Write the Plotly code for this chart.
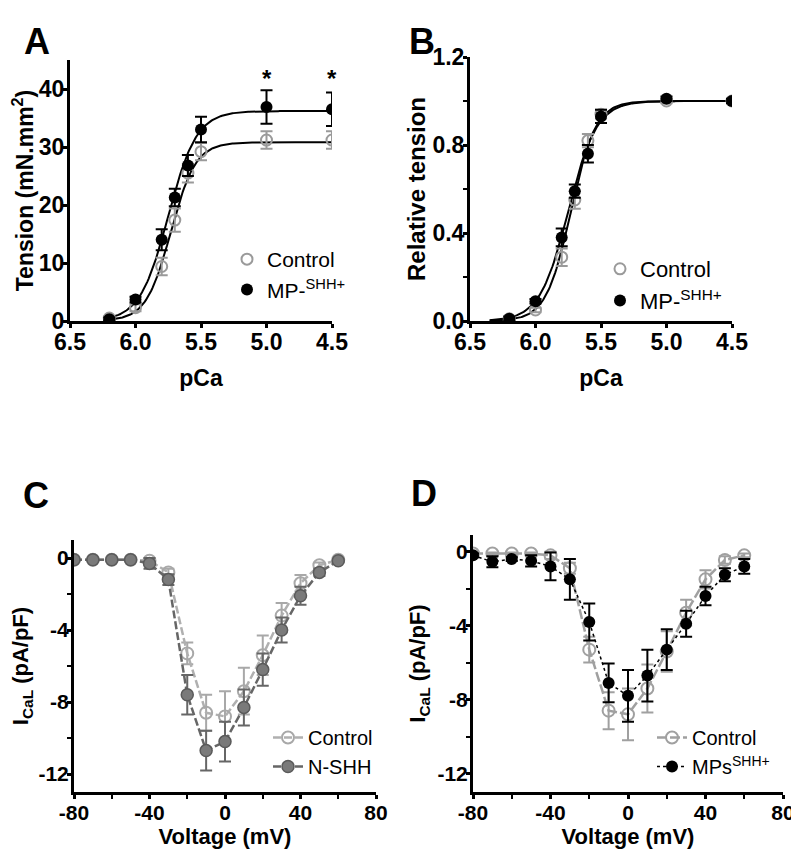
import plotly.graph_objects as go

# ---- panel A / B : tension vs pCa ----
pca = [6.2, 6.0, 5.8, 5.7, 5.6, 5.5, 5.0, 4.5]

tens_ctrl = [0.5, 2.3, 9.4, 17.4, 25.5, 29.2, 31.2, 31.2]
tens_ctrl_err = [0.3, 0.6, 1.5, 2.0, 1.6, 1.5, 1.5, 1.5]
tens_mp = [0.3, 3.7, 14.0, 21.3, 26.8, 33.0, 36.9, 36.5]
tens_mp_err = [0.3, 0.5, 1.8, 1.5, 1.8, 2.2, 2.9, 2.9]

rel_ctrl = [0.01, 0.05, 0.29, 0.55, 0.82, 0.94, 1.0, 1.0]
rel_ctrl_err = [0.01, 0.01, 0.04, 0.04, 0.03, 0.02, 0.01, 0.01]
rel_mp = [0.01, 0.09, 0.38, 0.59, 0.76, 0.93, 1.01, 1.0]
rel_mp_err = [0.01, 0.01, 0.04, 0.03, 0.04, 0.03, 0.01, 0.01]

# Hill fit parameters (top, pCa50, nH)
fit_tens_ctrl = (30.8, 5.73, 4.6)
fit_tens_mp = (36.2, 5.75, 4.0)
fit_rel_ctrl = (1.0, 5.73, 4.6)
fit_rel_mp = (1.0, 5.75, 4.0)

pca_ticks = [6.5, 6.0, 5.5, 5.0, 4.5]

# ---- panel C / D : I-V curves ----
volt = [-80, -70, -60, -50, -40, -30, -20, -10, 0, 10, 20, 30, 40, 50, 60]

ical_ctrl = [-0.1, -0.1, -0.1, -0.1, -0.15, -0.8, -5.3, -8.6, -8.8, -7.4, -5.4, -3.2, -1.4, -0.4, -0.1]
ical_ctrl_err = [0.05, 0.05, 0.05, 0.05, 0.1, 0.2, 0.6, 1.0, 1.4, 1.3, 1.1, 0.7, 0.45, 0.15, 0.05]
ical_nshh = [-0.1, -0.1, -0.1, -0.1, -0.3, -1.2, -7.6, -10.7, -10.2, -8.3, -6.2, -4.0, -2.1, -0.8, -0.15]
ical_nshh_err = [0.05, 0.05, 0.05, 0.05, 0.3, 0.3, 1.1, 1.1, 1.1, 1.0, 0.9, 0.7, 0.5, 0.2, 0.1]

ical_ctrl_d = [-0.1, -0.1, -0.1, -0.1, -0.2, -0.9, -5.3, -8.6, -8.8, -7.4, -5.4, -3.3, -1.5, -0.45, -0.2]
ical_ctrl_d_err = [0.05, 0.05, 0.05, 0.05, 0.2, 0.3, 0.7, 1.0, 1.4, 1.3, 1.1, 0.7, 0.5, 0.2, 0.1]
ical_mps = [-0.2, -0.55, -0.4, -0.5, -0.8, -1.5, -3.8, -7.1, -7.8, -6.7, -5.3, -3.9, -2.4, -1.25, -0.8]
ical_mps_err = [0.1, 0.3, 0.1, 0.3, 0.75, 1.1, 1.0, 1.05, 1.4, 1.4, 1.1, 0.7, 0.5, 0.35, 0.4]

volt_ticks = [-80, -40, 0, 40, 80]
ical_ticks = [0, -4, -8, -12]

GREY = '#9a9a9a'
FONT = 'Liberation Sans'

# the page body has an 8px margin, so the figure is drawn 8px in from the corner
OFF = 8
W, H = 799 - OFF, 857 - OFF


def px_x(a, b):
    return [(a - OFF) / W, (b - OFF) / W]


def px_y(top, bottom):
    return [1 - (bottom - OFF) / H, 1 - (top - OFF) / H]


def hill(xs, p):
    top, p50, n = p
    return [top / (1 + 10 ** (n * (x - p50))) for x in xs]


fit_x_a = [6.2 - i * 0.01 for i in range(171)]
fit_x_b = [6.35 - i * 0.01 for i in range(186)]

fig = go.Figure()

# A
fig.add_trace(go.Scatter(x=fit_x_a, y=hill(fit_x_a, fit_tens_ctrl), mode='lines',
                         line=dict(color='black', width=2), showlegend=False, xaxis='x', yaxis='y'))
fig.add_trace(go.Scatter(x=fit_x_a, y=hill(fit_x_a, fit_tens_mp), mode='lines',
                         line=dict(color='black', width=2), showlegend=False, xaxis='x', yaxis='y'))
fig.add_trace(go.Scatter(x=pca, y=tens_ctrl, mode='markers', name='Control', legend='legend',
                         marker=dict(symbol='circle-open', size=11, color=GREY, line=dict(width=2)),
                         error_y=dict(type='data', array=tens_ctrl_err, color=GREY, thickness=2, width=6),
                         xaxis='x', yaxis='y'))
fig.add_trace(go.Scatter(x=pca, y=tens_mp, mode='markers', name='MP-<sup>SHH+</sup>', legend='legend',
                         marker=dict(symbol='circle', size=12, color='black'),
                         error_y=dict(type='data', array=tens_mp_err, color='black', thickness=2, width=6),
                         xaxis='x', yaxis='y'))

# B
fig.add_trace(go.Scatter(x=fit_x_b, y=hill(fit_x_b, fit_rel_ctrl), mode='lines',
                         line=dict(color='black', width=2), showlegend=False, xaxis='x2', yaxis='y2'))
fig.add_trace(go.Scatter(x=fit_x_b, y=hill(fit_x_b, fit_rel_mp), mode='lines',
                         line=dict(color='black', width=2), showlegend=False, xaxis='x2', yaxis='y2'))
fig.add_trace(go.Scatter(x=pca, y=rel_ctrl, mode='markers', name='Control', legend='legend2',
                         marker=dict(symbol='circle-open', size=11, color=GREY, line=dict(width=2)),
                         error_y=dict(type='data', array=rel_ctrl_err, color=GREY, thickness=2, width=6),
                         xaxis='x2', yaxis='y2'))
fig.add_trace(go.Scatter(x=pca, y=rel_mp, mode='markers', name='MP-<sup>SHH+</sup>', legend='legend2',
                         marker=dict(symbol='circle', size=12, color='black'),
                         error_y=dict(type='data', array=rel_mp_err, color='black', thickness=2, width=6),
                         xaxis='x2', yaxis='y2'))

# C
fig.add_trace(go.Scatter(x=volt, y=ical_ctrl, mode='lines+markers', name='Control', legend='legend3',
                         line=dict(color='#b0b0b0', width=2.5, dash='8px,3px'),
                         marker=dict(symbol='circle-open', size=12, color='#a8a8a8', line=dict(width=2)),
                         error_y=dict(type='data', array=ical_ctrl_err, color='#a8a8a8', thickness=2, width=6),
                         xaxis='x3', yaxis='y3'))
fig.add_trace(go.Scatter(x=volt, y=ical_nshh, mode='lines+markers', name='N-SHH', legend='legend3',
                         line=dict(color='#666666', width=2.5, dash='8px,3px'),
                         marker=dict(symbol='circle', size=12, color='#7a7a7a', line=dict(width=1.5, color='#5a5a5a')),
                         error_y=dict(type='data', array=ical_nshh_err, color='#666666', thickness=2, width=6),
                         xaxis='x3', yaxis='y3'))

# D
fig.add_trace(go.Scatter(x=volt, y=ical_ctrl_d, mode='lines+markers', name='Control', legend='legend4',
                         line=dict(color='#a0a0a0', width=2.5, dash='10px,3px'),
                         marker=dict(symbol='circle-open', size=12, color='#a0a0a0', line=dict(width=2)),
                         error_y=dict(type='data', array=ical_ctrl_d_err, color='#a0a0a0', thickness=2, width=6),
                         xaxis='x4', yaxis='y4'))
fig.add_trace(go.Scatter(x=volt, y=ical_mps, mode='lines+markers', name='MPs<sup>SHH+</sup>', legend='legend4',
                         line=dict(color='black', width=1.5, dash='dot'),
                         marker=dict(symbol='circle', size=12, color='black'),
                         error_y=dict(type='data', array=ical_mps_err, color='black', thickness=2, width=6),
                         xaxis='x4', yaxis='y4'))


def ax(**kw):
    d = dict(showline=True, linecolor='black', linewidth=3, ticks='outside', ticklen=4,
             tickwidth=2.5, tickcolor='black', showgrid=False, zeroline=False, automargin=False,
             ticklabelstandoff=-6,
             tickfont=dict(family=FONT, size=23, color='black', weight='bold'))
    d.update(kw)
    return d


title_font = dict(family=FONT, size=23, color='black', weight='bold')
iv_tick = dict(family=FONT, size=21, color='black', weight='bold')
iv_title = dict(family=FONT, size=22, color='black', weight='bold')
minor = dict(ticklen=4, tickwidth=2, tickcolor='black')
legend_base = dict(xanchor='left', yanchor='top', bgcolor='rgba(0,0,0,0)', tracegroupgap=0)

fig.update_layout(
    width=W, height=H, margin=dict(l=0, r=0, t=0, b=0),
    paper_bgcolor='white', plot_bgcolor='white',
    xaxis=ax(domain=px_x(70, 332), anchor='y', range=[6.5, 4.5],
             tickvals=pca_ticks, ticktext=['%.1f' % v for v in pca_ticks],
             title=dict(text='pCa', font=title_font, standoff=17)),
    yaxis=ax(domain=px_y(60, 321), anchor='x', range=[0, 45], tickvals=[0, 10, 20, 30, 40],
             title=dict(text='Tension (mN.mm<sup>2</sup>)', font=title_font, standoff=1)),
    xaxis2=ax(domain=px_x(470, 732), anchor='y2', range=[6.5, 4.5],
              tickvals=pca_ticks, ticktext=['%.1f' % v for v in pca_ticks],
              title=dict(text='pCa', font=title_font, standoff=17)),
    yaxis2=ax(domain=px_y(57, 321), anchor='x2', range=[0, 1.2], dtick=0.4, tickformat='.1f',
              minor=dict(dtick=0.2, **minor),
              title=dict(text='Relative tension', font=dict(title_font, size=24), standoff=1)),
    xaxis3=ax(domain=px_x(74, 376), anchor='y3', range=[-80, 80],
              tickvals=volt_ticks, ticktext=[str(v) for v in volt_ticks], tickfont=iv_tick,
              minor=dict(dtick=20, **minor), ticklabelstandoff=-4,
              title=dict(text='Voltage (mV)', font=iv_title, standoff=2)),
    yaxis3=ax(domain=px_y(540, 792), anchor='x3', range=[-13, 1],
              tickvals=ical_ticks, ticktext=[str(v) for v in ical_ticks], tickfont=iv_tick,
              minor=dict(tickvals=[-2, -6, -10], **minor),
              title=dict(text='I<sub>CaL</sub> (pA/pF)', font=iv_title, standoff=6)),
    xaxis4=ax(domain=px_x(473, 783), anchor='y4', range=[-80, 80],
              tickvals=volt_ticks, ticktext=[str(v) for v in volt_ticks], tickfont=iv_tick,
              minor=dict(dtick=20, **minor), ticklabelstandoff=-4,
              title=dict(text='Voltage (mV)', font=iv_title, standoff=2)),
    yaxis4=ax(domain=px_y(535, 792), anchor='x4', range=[-13, 0.9],
              tickvals=ical_ticks, ticktext=[str(v) for v in ical_ticks], tickfont=iv_tick,
              minor=dict(tickvals=[-2, -6, -10], **minor),
              title=dict(text='I<sub>CaL</sub> (pA/pF)', font=iv_title, standoff=6)),
    legend=dict(x=(227 - OFF) / W, y=1 - (239 - OFF) / H, font=dict(family=FONT, size=21, color='black'),
                **legend_base),
    legend2=dict(x=(600 - OFF) / W, y=1 - (248 - OFF) / H, font=dict(family=FONT, size=22, color='black'),
                 **legend_base),
    legend3=dict(x=(268 - OFF) / W, y=1 - (718 - OFF) / H, font=dict(family=FONT, size=20, color='black'),
                 **legend_base),
    legend4=dict(x=(652 - OFF) / W, y=1 - (718 - OFF) / H, font=dict(family=FONT, size=20, color='black'),
                 **legend_base),
)

# panel letters
for letter, x, y in [('A', 22, 19), ('B', 422, 19), ('C', 21, 495), ('D', 424, 494)]:
    fig.add_annotation(text=letter, x=(x - OFF) / W, y=1 - (y - OFF) / H, xref='paper', yref='paper',
                       showarrow=False, font=dict(family=FONT, size=36, color='black', weight='bold'))

# significance stars
for px in [5.0, 4.5]:
    fig.add_annotation(text='*', x=px, y=41.8, xref='x', yref='y', showarrow=False,
                       font=dict(family=FONT, size=24, color='black', weight='bold'))

fig.write_html("out.html")
